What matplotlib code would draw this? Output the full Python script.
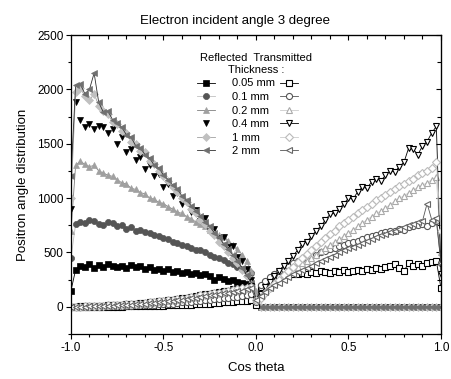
import numpy as np
import matplotlib
matplotlib.use('Agg')
import matplotlib.pyplot as plt
from matplotlib.ticker import MultipleLocator, NullFormatter

plt.rcParams['font.family'] = ['Liberation Sans', 'DejaVu Sans']

# bin centres of cos(theta), step 0.025
cos_theta = np.round(np.arange(-40, 41) * 0.025, 3)

thickness = ['0.05 mm', '0.1 mm', '0.2 mm', '0.4 mm', '1 mm', '2 mm']

# reflected positrons, cos theta = -1.0 ... 0.0 (41 bins); zero for cos > 0
refl_005 = [150, 340, 380, 370, 390, 360, 385, 370, 395, 380,
            370, 380, 360, 385, 370, 375, 350, 365, 340, 350,
            330, 345, 320, 330, 310, 320, 300, 310, 290, 300,
            280, 250, 270, 260, 240, 250, 230, 220, 210, 190, 90]
refl_01 = [450, 760, 780, 770, 800, 790, 760, 750, 780, 770,
           740, 750, 720, 730, 700, 710, 690, 680, 660, 650,
           630, 620, 600, 590, 570, 560, 540, 520, 520, 500,
           480, 460, 450, 430, 400, 390, 370, 350, 330, 310, 120]
refl_02 = [700, 1300, 1340, 1310, 1290, 1300, 1250, 1230, 1210, 1200,
           1170, 1140, 1130, 1090, 1080, 1050, 1040, 1000, 990, 960,
           950, 920, 900, 870, 860, 830, 810, 780, 760, 740,
           710, 690, 660, 640, 610, 570, 530, 480, 420, 330, 150]
refl_04 = [900, 1880, 1720, 1650, 1680, 1640, 1660, 1650, 1600, 1640,
           1500, 1560, 1420, 1450, 1350, 1380, 1270, 1300, 1200, 1220,
           1100, 1130, 1020, 1050, 950, 960, 870, 890, 790, 820,
           700, 720, 630, 640, 550, 560, 460, 420, 350, 250, 60]
refl_1 = [1000, 1980, 2010, 1940, 1900, 1960, 1850, 1800, 1770, 1700,
          1680, 1620, 1600, 1520, 1500, 1430, 1420, 1340, 1310, 1250,
          1200, 1160, 1100, 1060, 1000, 960, 900, 860, 800, 760,
          700, 660, 600, 560, 500, 450, 400, 340, 280, 210, 80]
refl_2 = [1200, 2040, 2050, 1960, 2000, 2150, 1880, 1790, 1800, 1720,
          1690, 1650, 1580, 1560, 1480, 1460, 1400, 1370, 1300, 1280,
          1210, 1170, 1120, 1080, 1020, 980, 930, 880, 840, 780,
          740, 680, 640, 580, 530, 480, 420, 360, 290, 220, 70]
refl_pos = [0] * 40

# transmitted positrons, cos theta = -1.0 ... 0.0 (41 bins)
trans_005_neg = [0, 0, 0, 0, 0, 0, 0, 0, 0, 0,
                 0, 0, 5, 5, 5, 5, 5, 10, 10, 10,
                 10, 15, 15, 15, 20, 20, 20, 25, 25, 30,
                 30, 35, 35, 40, 40, 45, 50, 50, 55, 60, 20]
trans_01_neg = [0, 0, 0, 0, 0, 0, 0, 5, 5, 5,
                5, 10, 10, 10, 15, 15, 15, 20, 20, 25,
                25, 30, 30, 35, 40, 40, 45, 50, 55, 60,
                65, 70, 75, 80, 85, 90, 95, 100, 110, 120, 40]
trans_02_neg = [0, 0, 0, 5, 5, 5, 10, 10, 10, 15,
                15, 20, 20, 25, 25, 30, 30, 35, 40, 45,
                50, 55, 60, 65, 70, 80, 85, 90, 100, 105,
                110, 120, 125, 130, 140, 145, 150, 160, 165, 170, 60]
trans_04_neg = [0, 0, 5, 5, 5, 10, 10, 10, 15, 15,
                20, 20, 25, 25, 30, 35, 35, 40, 45, 50,
                55, 60, 65, 75, 80, 85, 95, 100, 110, 115,
                120, 130, 135, 145, 150, 160, 165, 175, 180, 190, 70]
trans_1_neg = [0, 0, 0, 5, 5, 5, 10, 10, 15, 15,
               20, 20, 25, 25, 30, 30, 35, 40, 45, 50,
               55, 60, 65, 70, 75, 85, 90, 95, 105, 110,
               120, 125, 130, 140, 145, 155, 160, 170, 175, 180, 60]
trans_2_neg = [0, 0, 0, 0, 5, 5, 5, 10, 10, 10,
               15, 15, 20, 20, 25, 25, 30, 35, 35, 40,
               45, 50, 55, 60, 65, 70, 80, 85, 90, 100,
               105, 110, 120, 125, 130, 140, 145, 150, 160, 170, 60]

# transmitted positrons, cos theta = 0.025 ... 1.0 (40 bins)
trans_005_pos = [180, 220, 240, 260, 270, 280, 290, 300, 300, 310,
                 300, 320, 310, 330, 320, 310, 330, 320, 340, 320,
                 330, 340, 330, 350, 340, 360, 350, 370, 380, 390,
                 360, 330, 400, 380, 390, 380, 400, 410, 420, 170]
trans_01_pos = [200, 240, 270, 300, 330, 350, 380, 400, 420, 440,
                450, 470, 480, 500, 510, 530, 540, 560, 570, 590,
                600, 610, 620, 640, 650, 660, 680, 690, 700, 700,
                720, 710, 730, 740, 750, 760, 740, 770, 790, 400]
trans_02_pos = [120, 160, 190, 220, 250, 280, 310, 340, 370, 400,
                420, 450, 480, 510, 540, 570, 600, 620, 650, 680,
                710, 740, 770, 800, 830, 860, 880, 910, 940, 970,
                1000, 1020, 1050, 1070, 1100, 1120, 1140, 1170, 1190, 500]
trans_04_pos = [120, 180, 230, 280, 330, 380, 420, 470, 520, 580,
                600, 650, 700, 740, 800, 850, 860, 900, 950, 1000,
                990, 1060, 1100, 1090, 1150, 1180, 1160, 1210, 1250, 1240,
                1290, 1330, 1460, 1450, 1400, 1480, 1520, 1600, 1660, 300]
trans_1_pos = [80, 130, 170, 210, 250, 290, 330, 370, 410, 450,
               490, 520, 560, 600, 630, 670, 700, 740, 770, 800,
               830, 860, 890, 920, 950, 980, 1000, 1030, 1060, 1080,
               1110, 1130, 1160, 1180, 1210, 1230, 1250, 1280, 1330, 700]
trans_2_pos = [100, 140, 170, 200, 220, 250, 270, 300, 320, 340,
               360, 380, 400, 420, 440, 460, 480, 500, 520, 540,
               550, 570, 590, 610, 620, 640, 660, 670, 690, 700,
               720, 730, 750, 760, 780, 790, 950, 800, 820, 400]

reflected = [refl_005 + refl_pos, refl_01 + refl_pos, refl_02 + refl_pos,
             refl_04 + refl_pos, refl_1 + refl_pos, refl_2 + refl_pos]
transmitted = [trans_005_neg + trans_005_pos, trans_01_neg + trans_01_pos,
               trans_02_neg + trans_02_pos, trans_04_neg + trans_04_pos,
               trans_1_neg + trans_1_pos, trans_2_neg + trans_2_pos]

markers = ['s', 'o', '^', 'v', 'D', '<']
msizes = [4.2, 4.4, 4.8, 4.8, 3.8, 4.8]
refl_face = ['black', '#555555', '#a0a0a0', 'black', '#c0c0c0', '#707070']
refl_line = ['black', '#c0c0c0', '#808080', 'white', '#a0a0a0', '#303030']
trans_edge = ['black', '#555555', '#aaaaaa', 'black', '#bbbbbb', '#666666']
trans_line = ['black', '#555555', '#cccccc', 'black', '#cccccc', '#555555']

fig = plt.figure(figsize=(4.51, 3.79), dpi=100)
ax = fig.add_axes([0.1574, 0.1187, 0.8204, 0.7889])

refl_handles = []
trans_handles = []
for i in range(6):
    h, = ax.plot(cos_theta, reflected[i], color=refl_line[i], lw=0.6,
                 marker=markers[i], ms=msizes[i], mfc=refl_face[i],
                 mec=refl_face[i], mew=0.5)
    refl_handles.append(h)
for i in range(6):
    h, = ax.plot(cos_theta, transmitted[i], color=trans_line[i], lw=0.6,
                 marker=markers[i], ms=msizes[i], mfc='white',
                 mec=trans_edge[i], mew=0.8)
    trans_handles.append(h)

ax.set_xlim(-1.0, 1.0)
ax.set_ylim(-250, 2500)
ax.xaxis.set_minor_locator(MultipleLocator(0.1))
ax.yaxis.set_minor_locator(MultipleLocator(250))
ax.set_xticks([-1.0, -0.5, 0.0, 0.5, 1.0])
ax.set_xticklabels(['-1.0', '-0.5', '0.0', '0.5', '1.0'])
ax.set_yticks([0, 500, 1000, 1500, 2000, 2500])
ax.tick_params(which='major', direction='out', length=3.5, width=0.8, labelsize=8.5, pad=2)
ax.tick_params(which='minor', direction='out', length=2, width=0.8)
for s in ax.spines.values():
    s.set_linewidth(0.9)

top = ax.secondary_xaxis('top')
top.xaxis.set_major_locator(MultipleLocator(0.5))
top.xaxis.set_minor_locator(MultipleLocator(0.1))
top.xaxis.set_major_formatter(NullFormatter())
top.tick_params(which='major', direction='in', length=3.5, width=0.8)
top.tick_params(which='minor', direction='in', length=3, width=0.8)
right = ax.secondary_yaxis('right')
right.yaxis.set_major_locator(MultipleLocator(500))
right.yaxis.set_minor_locator(MultipleLocator(250))
right.yaxis.set_major_formatter(NullFormatter())
right.tick_params(which='major', direction='in', length=3.5, width=0.8)
right.tick_params(which='minor', direction='in', length=3, width=0.8)

ax.set_xlabel('Cos theta', fontsize=9.5, labelpad=6)
ax.set_ylabel('Positron angle distribution', fontsize=9.5, labelpad=6)
fig.text(0.52, 0.945, 'Electron incident angle 3 degree', fontsize=9.5, ha='center', va='center')

leg = ax.legend(refl_handles + trans_handles, thickness + [''] * 6, ncol=2,
                title='Reflected  Transmitted\nThickness :', title_fontsize=8,
                fontsize=8, frameon=False, numpoints=1, handlelength=1.6,
                handletextpad=1.5, columnspacing=0.5, labelspacing=0.32,
                loc='upper left', bbox_to_anchor=(0.32, 0.965), borderpad=0.2)
leg.get_title().set_multialignment('center')

fig.savefig('out.png', dpi=100)
